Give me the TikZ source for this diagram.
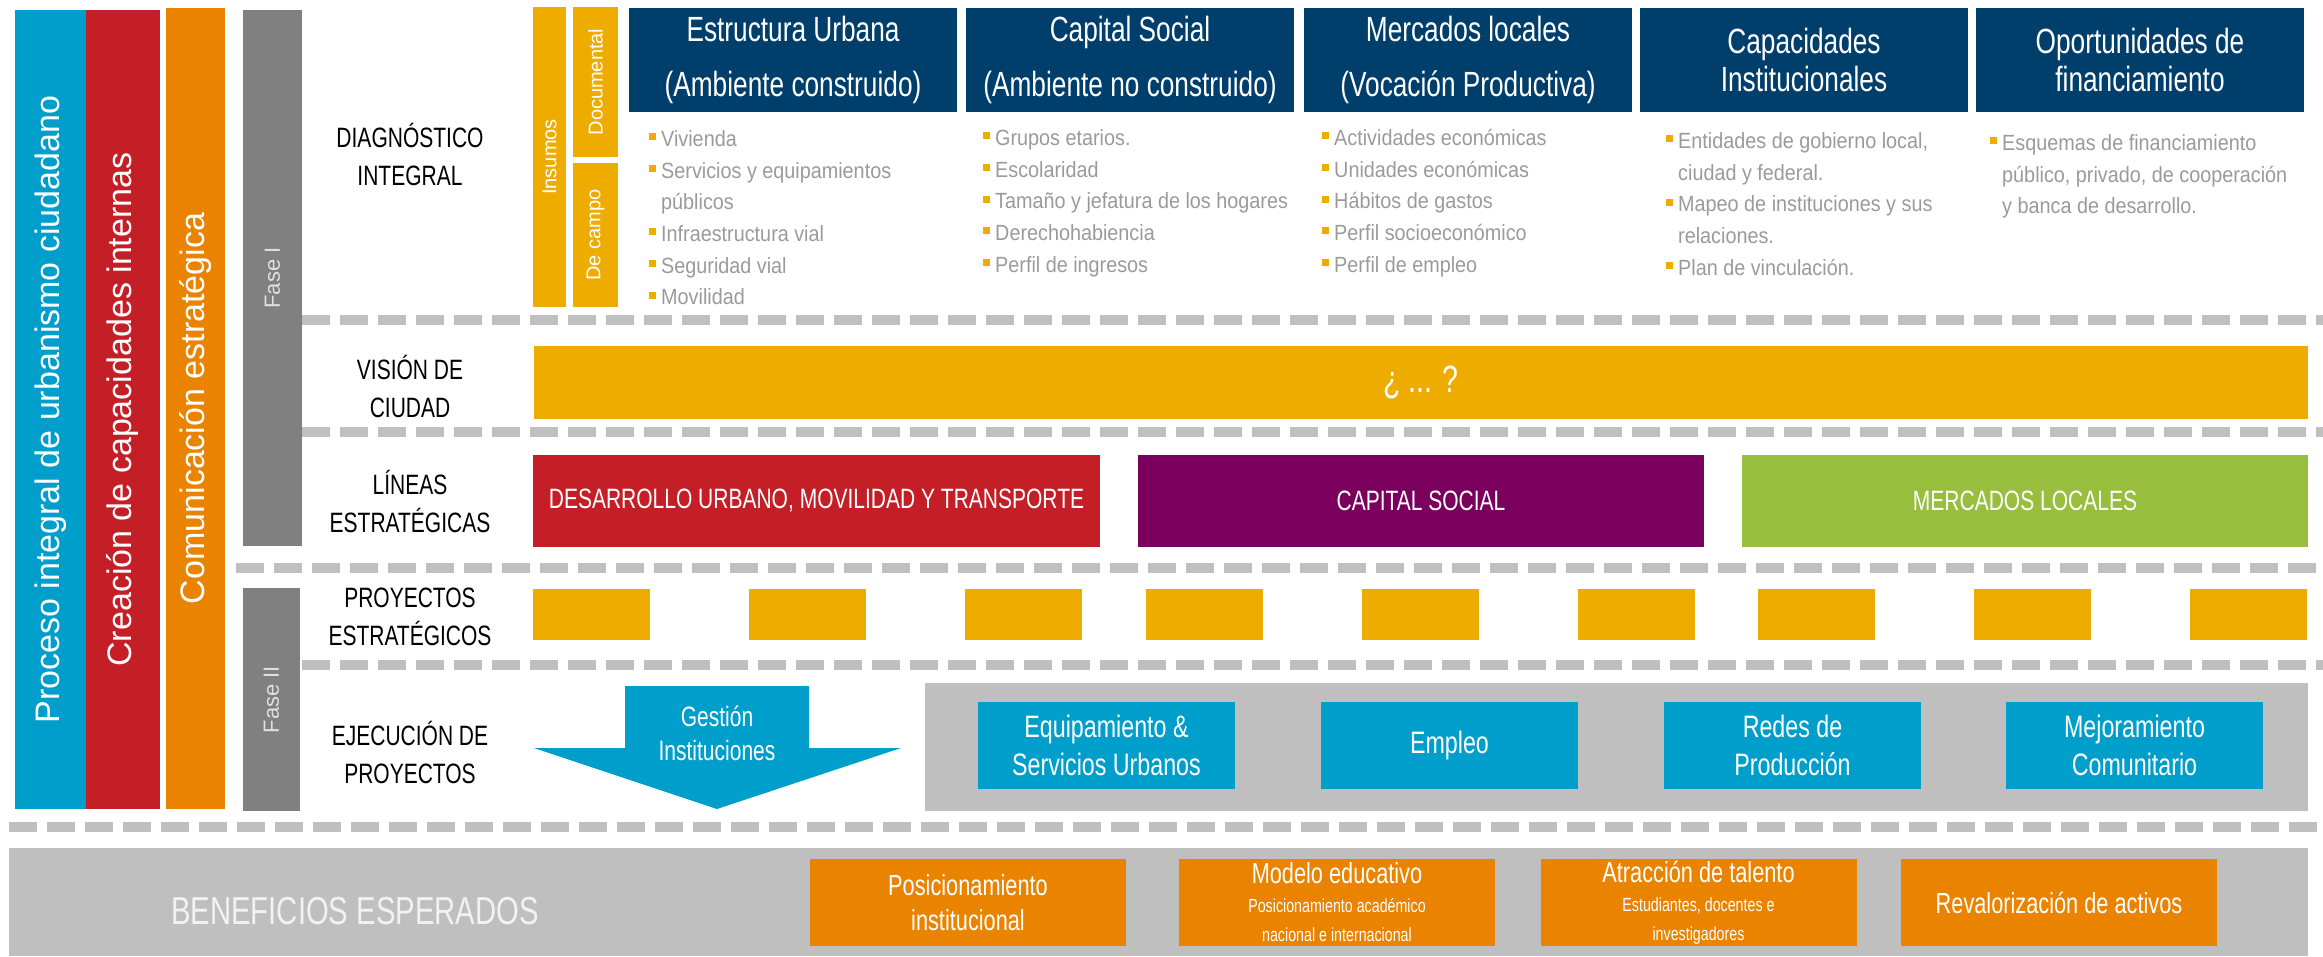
\documentclass[tikz,border=0pt]{standalone}
\usepackage{fontspec}
\setmainfont{Liberation Sans}
\newfontfamily\cnd{Liberation Sans}[FakeStretch=0.75]
\newfontfamily\bul{Liberation Sans}[FakeStretch=0.9]

\definecolor{navy}{HTML}{003E6B}
\definecolor{amarillo}{HTML}{EFAC00}
\definecolor{azul}{HTML}{009FCB}
\definecolor{rojo}{HTML}{C41F26}
\definecolor{naranja}{HTML}{E98300}
\definecolor{grisfase}{HTML}{808080}
\definecolor{grisclaro}{HTML}{BFBFBF}
\definecolor{morado}{HTML}{7B005D}
\definecolor{verde}{HTML}{97BE3D}
\definecolor{gristexto}{HTML}{9A9A9A}

\newcommand{\sq}{\strut\makebox[12pt][l]{\textcolor{amarillo}{\rule[6pt]{7pt}{7pt}}}}
\newcommand{\ind}{\strut\hspace*{12pt}}
\newcommand{\peq}{\fontsize{19}{24}\selectfont}

\begin{document}
\begin{tikzpicture}[x=1pt, y=-1pt,
  barra/.style={inner sep=0, text=white, font=\fontsize{34}{40}\selectfont},
  hdr/.style={fill=navy, text=white, inner sep=0, minimum width=328, minimum height=104, align=center, font=\cnd\fontsize{35}{42}\selectfont},
  lista/.style={anchor=north west, inner sep=0, align=left, text=gristexto, font=\bul\fontsize{22}{31.7}\selectfont},
  etiqueta/.style={align=center, inner sep=0, font=\cnd\fontsize{28}{38}\selectfont},
  linea/.style={inner sep=0, text=white, minimum height=92, font=\cnd\fontsize{28}{34}\selectfont},
  proy/.style={fill=amarillo, minimum width=117, minimum height=51, inner sep=0},
  accion/.style={fill=azul, text=white, minimum width=257, minimum height=87, inner sep=0, align=center, font=\cnd\fontsize{31}{38}\selectfont},
  beneficio/.style={fill=naranja, text=white, minimum width=316, minimum height=87, inner sep=0, align=center, font=\cnd\fontsize{29}{35}\selectfont},
  divisor/.style={grisclaro, line width=10pt, dash pattern=on 28pt off 10pt}]
\useasboundingbox (0,0) rectangle (2323,956);

% columnas de la izquierda
\node[barra, fill=azul, minimum width=799, minimum height=71, rotate=90] (proceso) at (50.5,409.5) {Proceso integral de urbanismo ciudadano};
\node[barra, fill=rojo, minimum width=799, minimum height=74, rotate=90] (creacion) at (123,409.5) {Creación de capacidades internas};
\node[barra, fill=naranja, minimum width=801, minimum height=59, rotate=90] (comunicacion) at (195.5,408.5) {Comunicación estratégica};
\node[barra, fill=grisfase, text=white!88!black, minimum width=536, minimum height=59, rotate=90, font=\fontsize{22}{26}\selectfont] (fase1) at (272.5,278) {Fase I};
\node[barra, fill=grisfase, text=white!88!black, minimum width=223, minimum height=57, rotate=90, font=\fontsize{22}{26}\selectfont] (fase2) at (271.5,699.5) {Fase II};

% insumos
\node[barra, fill=amarillo, minimum width=300, minimum height=33, rotate=90, font=\fontsize{20}{24}\selectfont] (insumos) at (549.5,157) {Insumos};
\node[barra, fill=amarillo, minimum width=150, minimum height=45, rotate=90, font=\fontsize{20}{24}\selectfont] (documental) at (595.5,82) {Documental};
\node[barra, fill=amarillo, minimum width=144, minimum height=45, rotate=90, font=\fontsize{20}{24}\selectfont] (campo) at (595.5,235) {De campo};

% encabezados
\node[hdr] (urbana) at (793,60) {Estructura Urbana\\[13pt](Ambiente construido)};
\node[hdr] (social) at (1130,60) {Capital Social\\[13pt](Ambiente no construido)};
\node[hdr] (mercados) at (1468,60) {Mercados locales\\[13pt](Vocación Productiva)};
\node[hdr, font=\cnd\fontsize{35}{38}\selectfont] (capacidades) at (1804,60) {Capacidades\\Institucionales};
\node[hdr, font=\cnd\fontsize{35}{38}\selectfont] (financiamiento) at (2140,60) {Oportunidades de\\financiamiento};

\node[lista] (l1) at (649,124) {\sq Vivienda\\\sq Servicios y equipamientos\\\ind públicos\\\sq Infraestructura vial\\\sq Seguridad vial\\\sq Movilidad};
\node[lista] (l2) at (983,123) {\sq Grupos etarios.\\\sq Escolaridad\\\sq Tamaño y jefatura de los hogares\\\sq Derechohabiencia\\\sq Perfil de ingresos};
\node[lista] (l3) at (1322,123) {\sq Actividades económicas\\\sq Unidades económicas\\\sq Hábitos de gastos\\\sq Perfil socioeconómico\\\sq Perfil de empleo};
\node[lista] (l4) at (1666,126) {\sq Entidades de gobierno local,\\\ind ciudad y federal.\\\sq Mapeo de instituciones y sus\\\ind relaciones.\\\sq Plan de vinculación.};
\node[lista] (l5) at (1990,128) {\sq Esquemas de financiamiento\\\ind público, privado, de cooperación\\\ind y banca de desarrollo.};

% divisiones
\draw[divisor] (302,320) -- (2323,320);
\draw[divisor] (302,432) -- (2323,432);
\draw[divisor] (236,568) -- (2323,568);
\draw[divisor] (302,665) -- (2323,665);
\draw[divisor] (9,827) -- (2323,827);

% etapas
\node[etiqueta] (diag) at (410,154) {DIAGNÓSTICO\\INTEGRAL};
\node[etiqueta] (vis) at (410,386) {VISIÓN DE\\CIUDAD};
\node[etiqueta] (lin) at (410,501) {LÍNEAS\\ESTRATÉGICAS};
\node[etiqueta] (pro) at (410,617) {PROYECTOS\\ESTRATÉGICOS};
\node[etiqueta] (eje) at (410,752) {EJECUCIÓN DE\\PROYECTOS};

\node[fill=amarillo, minimum width=1774, minimum height=73, inner sep=0, text=white, font=\cnd\fontsize{38}{40}\selectfont] (vision) at (1421,382.5) {¿ ... ?};

\node[linea, fill=rojo, minimum width=567] (desarrollo) at (816.5,501) {DESARROLLO URBANO, MOVILIDAD Y TRANSPORTE};
\node[linea, fill=morado, minimum width=566] (capital) at (1421,501) {CAPITAL SOCIAL};
\node[linea, fill=verde, minimum width=566] (locales) at (2025,501) {MERCADOS LOCALES};

\foreach \g in {0,1,2}
  \foreach \k in {0,1,2}
    \node[proy] (p\g\k) at ({591.5+\g*612.5+\k*216},614.5) {};

% ejecucion
\fill[azul] (625,686) -- (809,686) -- (809,748) -- (901,748) -- (717,809) -- (534,748) -- (625,748) -- cycle;
\node[align=center, text=white, inner sep=0, font=\cnd\fontsize{28}{34}\selectfont] (gestion) at (717,733) {Gestión\\Instituciones};

\node[fill=grisclaro, minimum width=1383, minimum height=128, inner sep=0] (panel) at (1616.5,747) {};
\node[accion] (equip) at (1106.5,745.5) {Equipamiento \&\\Servicios Urbanos};
\node[accion] (empleo) at (1449.5,745.5) {Empleo};
\node[accion] (redes) at (1792.5,745.5) {Redes de\\Producción};
\node[accion] (mejora) at (2134.5,745.5) {Mejoramiento\\Comunitario};

% beneficios
\node[fill=grisclaro, minimum width=2299, minimum height=108, inner sep=0] (benef) at (1158.5,902) {};
\node[text=white!95!black, inner sep=0, font=\cnd\fontsize{39}{44}\selectfont] (benefrotulo) at (355,911) {BENEFICIOS ESPERADOS};
\node[beneficio] (b1) at (968,902.5) {Posicionamiento\\institucional};
\node[beneficio] (b2) at (1337,902.5) {Modelo educativo\\[-6pt]{\peq Posicionamiento académico}\\[-6pt]{\peq nacional e internacional}};
\node[beneficio] (b3) at (1698.5,902.5) {Atracción de talento\\[-6pt]{\peq Estudiantes, docentes e}\\[-6pt]{\peq investigadores}};
\node[beneficio] (b4) at (2059,902.5) {Revalorización de activos};
\end{tikzpicture}
\end{document}
